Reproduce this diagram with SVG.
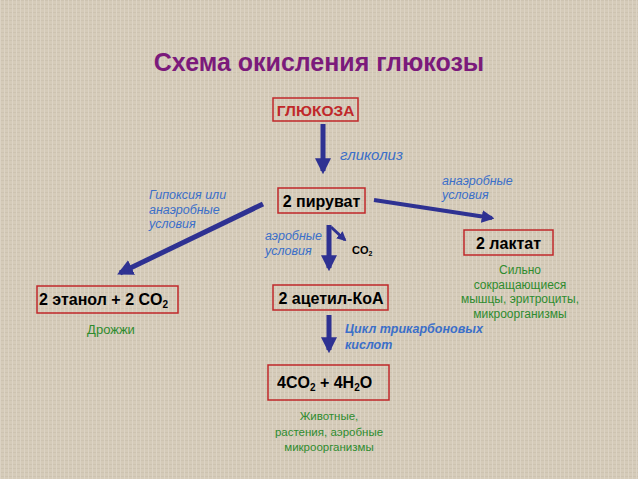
<svg xmlns="http://www.w3.org/2000/svg" width="638" height="479" viewBox="0 0 638 479">
<defs>
<marker id="ah" viewBox="0 0 10 10" refX="8" refY="5" markerWidth="3.2" markerHeight="3.2" orient="auto" markerUnits="strokeWidth">
<path d="M0,0 L10,5 L0,10 Z" fill="#2e3192"/>
</marker>
<pattern id="linen" width="4" height="4" patternUnits="userSpaceOnUse">
<rect width="4" height="4" fill="#d5cbb9"/>
<rect width="4" height="1" fill="#cdc3b1"/>
<rect width="1" height="4" fill="#dcd3c4"/>
</pattern>
</defs>
<style>
.box{fill:none;stroke:#c0282a;stroke-width:1.5}
.lbl{font-family:"Liberation Sans",Arial,sans-serif;font-weight:bold;font-size:16px;fill:#000}
.blue{font-family:"Liberation Sans",Arial,sans-serif;font-style:italic;font-size:12.5px;fill:#3b6fc9}
.green{font-family:"Liberation Sans",Arial,sans-serif;font-size:12px;fill:#2e8b2e;text-anchor:middle}
.con{stroke:#2e3192;stroke-width:5;fill:none}
</style>
<rect width="638" height="479" fill="url(#linen)"/>
<text x="319" y="71" text-anchor="middle" font-family="Liberation Sans,Arial,sans-serif" font-weight="bold" font-size="25" fill="#7b1a7b">Схема окисления глюкозы</text>

<g id="connectors">
<line class="con" x1="323" y1="124" x2="323" y2="171" marker-end="url(#ah)"/>
<line class="con" x1="263" y1="204" x2="120" y2="273" marker-end="url(#ah)"/>
<line class="con" x1="374" y1="200" x2="492" y2="218" marker-end="url(#ah)" style="stroke-width:4px"/>
<line class="con" x1="329" y1="225" x2="329" y2="268" marker-end="url(#ah)"/>
<line x1="331" y1="227" x2="345" y2="240" stroke="#2e3192" stroke-width="3" marker-end="url(#ah)"/>
<line class="con" x1="329" y1="315" x2="329" y2="350" marker-end="url(#ah)"/>
</g>

<g id="glucose">
<rect class="box" x="273" y="98" width="85" height="23"/>
<text x="315.5" y="115.5" text-anchor="middle" font-family="Liberation Sans,Arial,sans-serif" font-weight="bold" font-size="15.5" fill="#c0282a">ГЛЮКОЗА</text>
</g>
<text class="blue" x="340" y="160" style="font-size:15px">гликолиз</text>

<g id="pyruvate">
<rect class="box" x="278" y="188" width="87" height="25"/>
<text class="lbl" x="321.5" y="206.5" text-anchor="middle">2 пируват</text>
</g>

<text class="blue" x="149" y="199">Гипоксия или</text>
<text class="blue" x="149" y="214">анаэробные</text>
<text class="blue" x="149" y="228">условия</text>

<text class="blue" x="442" y="185">анаэробные</text>
<text class="blue" x="442" y="199">условия</text>

<text class="blue" x="265" y="240">аэробные</text>
<text class="blue" x="265" y="255">условия</text>
<text x="352" y="254" font-family="Liberation Sans,Arial,sans-serif" font-weight="bold" font-size="11" fill="#000">CO<tspan font-size="7" dy="2">2</tspan></text>

<g id="lactate">
<rect class="box" x="464" y="230" width="89" height="25"/>
<text class="lbl" x="508.5" y="248.5" text-anchor="middle">2 лактат</text>
<text class="green" x="520" y="274">Сильно</text>
<text class="green" x="520" y="289">сокращающиеся</text>
<text class="green" x="520" y="303">мышцы, эритроциты,</text>
<text class="green" x="520" y="318">микроорганизмы</text>
</g>

<g id="ethanol">
<rect class="box" x="37" y="286" width="141" height="27"/>
<text class="lbl" x="39" y="305">2 этанол + 2 CO<tspan style="font-size:10px" dy="3">2</tspan></text>
<text class="green" x="111" y="334" style="font-size:13px">Дрожжи</text>
</g>

<g id="acetyl">
<rect class="box" x="273" y="285" width="115" height="25"/>
<text class="lbl" x="331" y="303.5" text-anchor="middle">2 ацетил-КоА</text>
</g>
<text class="blue" x="345" y="333" font-weight="bold">Цикл трикарбоновых</text>
<text class="blue" x="345" y="349" font-weight="bold">кислот</text>

<g id="final">
<rect class="box" x="268" y="365" width="121" height="35"/>
<text class="lbl" x="277" y="388">4CO<tspan style="font-size:10px" dy="3">2</tspan><tspan dy="-3"> + 4H</tspan><tspan style="font-size:10px" dy="3">2</tspan><tspan dy="-3">O</tspan></text>
<text class="green" x="329" y="420" style="font-size:11.5px">Животные,</text>
<text class="green" x="329" y="436" style="font-size:11.5px">растения, аэробные</text>
<text class="green" x="329" y="451" style="font-size:11.5px">микроорганизмы</text>
</g>
</svg>
